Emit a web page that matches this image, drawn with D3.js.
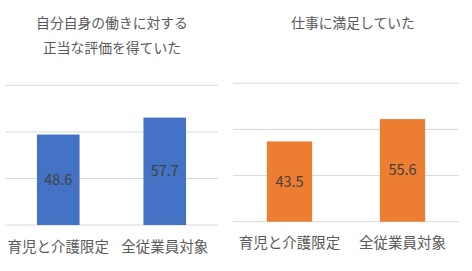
<!DOCTYPE html>
<html>
<head>
<meta charset="utf-8">
<script src="https://cdn.jsdelivr.net/npm/d3@7"></script>
<style>
  body { margin: 0; background: #fff; }
  svg { display: block; font-family: "Noto Sans CJK JP", "Noto Sans", sans-serif; }
</style>
</head>
<body>
<div id="chart"></div>
<script>
const categories = ["育児と介護限定", "全従業員対象"];
const evaluationValues = [48.6, 57.7];
const satisfactionValues = [43.5, 55.6];
const tickValues = [0, 25, 50, 75];

const width = 472, height = 271;
const svg = d3.select("#chart")
    .append("svg")
    .attr("width", width)
    .attr("height", height);

// one small bar chart per panel
function drawPanel(opts) {
    const g = svg.append("g");

    const x = d3.scaleBand()
        .domain(categories)
        .range([opts.left, opts.right])
        .paddingInner(0.6)
        .paddingOuter(0.3);

    const y = d3.scaleLinear()
        .domain([0, 75])
        .range([opts.base, opts.top]);

    // gridlines
    g.selectAll(".grid")
        .data(tickValues)
        .enter()
        .append("line")
        .attr("x1", opts.left)
        .attr("x2", opts.right)
        .attr("y1", d => y(d))
        .attr("y2", d => y(d))
        .attr("stroke", "#d9d9d9")
        .attr("stroke-width", 1);

    // bars
    g.selectAll(".bar")
        .data(opts.values)
        .enter()
        .append("rect")
        .attr("x", (d, i) => x(categories[i]))
        .attr("y", d => y(d))
        .attr("width", x.bandwidth())
        .attr("height", d => y(0) - y(d))
        .attr("fill", opts.color);

    // value labels in the middle of each bar
    g.selectAll(".value")
        .data(opts.values)
        .enter()
        .append("text")
        .attr("x", (d, i) => x(categories[i]) + x.bandwidth() / 2)
        .attr("y", d => (y(d) + y(0)) / 2)
        .attr("dy", "0.35em")
        .attr("text-anchor", "middle")
        .style("font-size", "14.5px")
        .style("fill", "#404040")
        .text(d => d.toFixed(1));

    // category labels
    g.selectAll(".cat")
        .data(categories)
        .enter()
        .append("text")
        .attr("x", d => x(d) + x.bandwidth() / 2)
        .attr("y", opts.base + opts.labelGap)
        .attr("dy", "0.35em")
        .attr("text-anchor", "middle")
        .style("font-size", "14.5px")
        .style("fill", "#595959")
        .text(d => d);

    // title
    g.selectAll(".title")
        .data(opts.title)
        .enter()
        .append("text")
        .attr("x", opts.titleX)
        .attr("y", (d, i) => 23 + i * 25)
        .attr("dy", "0.35em")
        .attr("text-anchor", "middle")
        .style("font-size", "13.8px")
        .style("fill", "#595959")
        .text(d => d);
}

drawPanel({
    left: 5, right: 218, base: 225, top: 85.4,
    values: evaluationValues, color: "#4472c4",
    title: ["自分自身の働きに対する", "正当な評価を得ていた"],
    titleX: 112, labelGap: 22
});

drawPanel({
    left: 233, right: 459, base: 221.7, top: 83.3,
    values: satisfactionValues, color: "#ed7d31",
    title: ["仕事に満足していた"],
    titleX: 353, labelGap: 21
});
</script>
</body>
</html>
